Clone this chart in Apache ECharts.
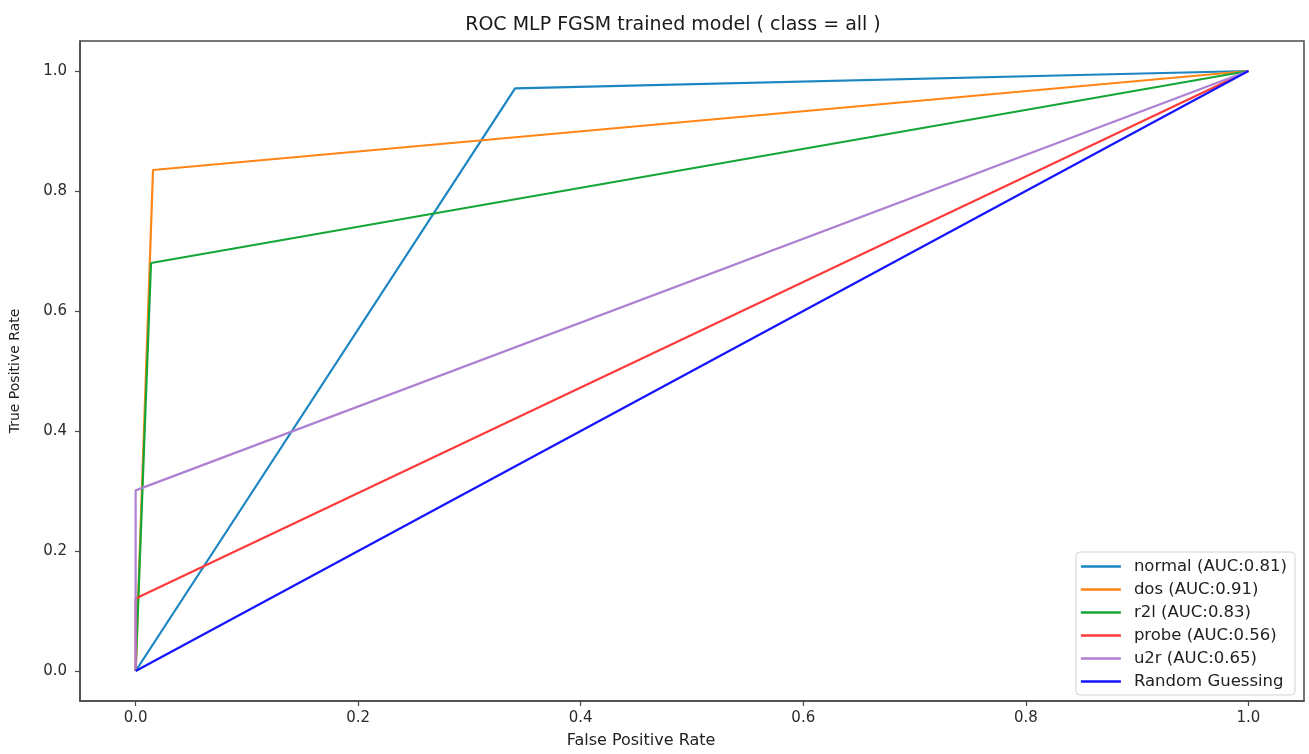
<!DOCTYPE html>
<html>
<head>
<meta charset="utf-8">
<script src="https://cdn.jsdelivr.net/npm/echarts@6/dist/echarts.min.js"></script>
<style>
  html, body { margin: 0; padding: 0; background: #fff; }
  #chart { width: 1309px; height: 754px; }
</style>
</head>
<body>
<div id="chart"></div>
<script>
// ROC curves per class (false positive rate, true positive rate)
const normalRoc = [[0, 0], [0.341, 0.971], [1, 1]];
const dosRoc    = [[0, 0], [0.0156, 0.835], [1, 1]];
const r2lRoc    = [[0, 0], [0.0138, 0.680], [1, 1]];
const probeRoc  = [[0, 0], [0, 0.121], [1, 1]];
const u2rRoc    = [[0, 0], [0, 0.301], [1, 1]];
const randomRoc = [[0, 0], [1, 1]];

const seriesNames = [
  'normal (AUC:0.81)',
  'dos (AUC:0.91)',
  'r2l (AUC:0.83)',
  'probe (AUC:0.56)',
  'u2r (AUC:0.65)',
  'Random Guessing'
];
const seriesColors = ['#1b86c2', '#ff8516', '#14a637', '#ff3a3a', '#ae80d2', '#1414ff'];
const seriesData = [normalRoc, dosRoc, r2lRoc, probeRoc, u2rRoc, randomRoc];

const xTicks = [0, 0.2, 0.4, 0.6, 0.8, 1.0];
const yTicks = [0, 0.2, 0.4, 0.6, 0.8, 1.0];

const FONT = '"DejaVu Sans", sans-serif';
const AXIS_COLOR = '#4a4a4a';

const chart = echarts.init(document.getElementById('chart'), null, { renderer: 'canvas' });

chart.setOption({
  animation: false,
  backgroundColor: '#ffffff',
  title: {
    text: 'ROC MLP FGSM trained model ( class = all )',
    left: 668,
    top: 11,
    textAlign: 'center',
    textStyle: { fontFamily: FONT, fontSize: 19, fontWeight: 'normal', color: '#1a1a1a' }
  },
  grid: {
    left: 80, top: 41, right: 5, bottom: 51,
    show: true,
    borderColor: AXIS_COLOR,
    borderWidth: 1.5,
    backgroundColor: 'transparent'
  },
  legend: {
    orient: 'vertical',
    right: 14,
    bottom: 59,
    data: seriesNames,
    icon: 'rect',
    itemWidth: 40,
    itemHeight: 2.6,
    itemGap: 6,
    padding: [6, 8, 5, 5],
    backgroundColor: '#ffffff',
    borderColor: '#d2d2d2',
    borderWidth: 1,
    borderRadius: 4,
    textStyle: { fontFamily: FONT, fontSize: 16.5, color: '#222', padding: [0, 0, 0, 8] }
  },
  xAxis: {
    type: 'value',
    min: -0.05,
    max: 1.05,
    name: 'False Positive Rate',
    nameLocation: 'middle',
    nameGap: 32,
    nameTextStyle: { fontFamily: FONT, fontSize: 16, color: '#222', padding: [0, 102, 0, 0] },
    splitLine: { show: false },
    axisLine: { show: true, onZero: false, lineStyle: { color: AXIS_COLOR, width: 1.5 } },
    axisTick: { show: true, length: 5, customValues: xTicks, lineStyle: { color: AXIS_COLOR, width: 1.2 } },
    axisLabel: {
      customValues: xTicks,
      margin: 10,
      fontFamily: FONT, fontSize: 15, color: '#2a2a2a',
      formatter: v => v.toFixed(1)
    }
  },
  yAxis: {
    type: 'value',
    min: -0.05,
    max: 1.05,
    name: 'True Positive Rate',
    nameLocation: 'middle',
    nameGap: 58,
    nameTextStyle: { fontFamily: FONT, fontSize: 14, color: '#222' },
    splitLine: { show: false },
    axisLine: { show: true, onZero: false, lineStyle: { color: AXIS_COLOR, width: 1.5 } },
    axisTick: { show: true, length: 5, customValues: yTicks, lineStyle: { color: AXIS_COLOR, width: 1.2 } },
    axisLabel: {
      customValues: yTicks,
      margin: 13,
      fontFamily: FONT, fontSize: 15, color: '#2a2a2a',
      formatter: v => v.toFixed(1)
    }
  },
  series: seriesNames.map((name, i) => ({
    name: name,
    type: 'line',
    data: seriesData[i],
    symbol: 'none',
    showSymbol: false,
    clip: false,
    color: seriesColors[i],
    lineStyle: { color: seriesColors[i], width: 2.2 },
    emphasis: { disabled: true }
  }))
});
</script>
</body>
</html>
